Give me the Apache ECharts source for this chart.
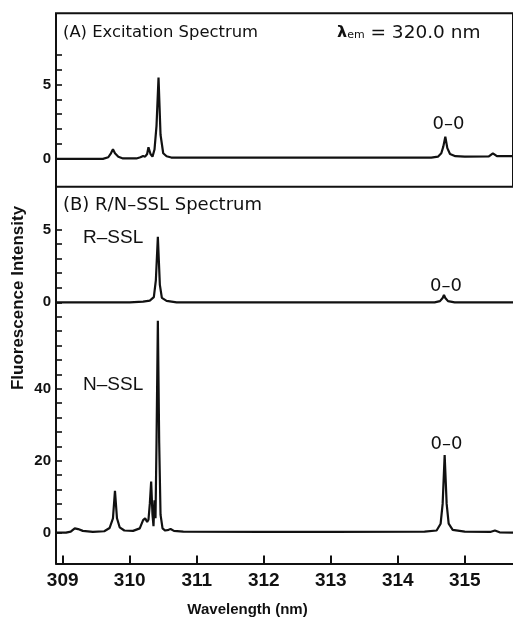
<!DOCTYPE html>
<html>
<head>
<meta charset="utf-8">
<script src="https://cdn.jsdelivr.net/npm/echarts@6/dist/echarts.min.js"></script>
<style>
html,body{margin:0;padding:0;background:#fff;}
#chart{width:513px;height:619px;}
</style>
</head>
<body>
<div id="chart"></div>
<script>
// ---- Data ----
// (A) Excitation spectrum, lambda_em = 320.0 nm
var excWave = [308.9, 309.6, 309.68, 309.72, 309.75, 309.78, 309.83, 309.9, 310.1, 310.16, 310.2, 310.23, 310.26, 310.28, 310.31, 310.34, 310.37, 310.4, 310.43, 310.46, 310.5, 310.55, 310.62, 310.8, 314.5, 314.6, 314.65, 314.68, 314.71, 314.74, 314.78, 314.86, 315.0, 315.36, 315.42, 315.48, 315.72];
var excInt  = [-0.03, -0.03, 0.08, 0.35, 0.62, 0.35, 0.12, 0.0, 0.0, 0.08, 0.17, 0.12, 0.3, 0.76, 0.3, 0.12, 0.6, 2.2, 5.46, 1.6, 0.35, 0.15, 0.06, 0.05, 0.05, 0.12, 0.35, 0.8, 1.47, 0.7, 0.3, 0.15, 0.12, 0.14, 0.35, 0.15, 0.15];

// (B) R-SSL spectrum
var rWave = [308.9, 310.0, 310.2, 310.3, 310.36, 310.39, 310.42, 310.45, 310.48, 310.55, 310.7, 314.55, 314.63, 314.67, 314.69, 314.71, 314.75, 314.85, 315.72];
var rInt  = [0, 0, 0.05, 0.12, 0.35, 1.5, 4.5, 1.2, 0.3, 0.1, 0.0, 0.0, 0.08, 0.3, 0.5, 0.3, 0.08, 0.0, 0.0];

// (B) N-SSL spectrum
var nWave = [308.9, 309.05, 309.12, 309.18, 309.23, 309.3, 309.45, 309.62, 309.7, 309.75, 309.78, 309.81, 309.85, 309.92, 310.05, 310.15, 310.2, 310.23, 310.26, 310.28, 310.3, 310.32, 310.34, 310.355, 310.37, 310.385, 310.4, 310.42, 310.44, 310.46, 310.49, 310.53, 310.58, 310.61, 310.66, 310.8, 312.0, 313.0, 314.4, 314.58, 314.64, 314.67, 314.70, 314.73, 314.76, 314.82, 315.0, 315.38, 315.45, 315.52, 315.72];
var nInt  = [0, 0, 0.3, 1.2, 1.0, 0.5, 0.2, 0.4, 1.3, 4.0, 11.6, 4.0, 1.5, 0.6, 0.5, 1.2, 3.5, 4.0, 3.0, 3.6, 8.0, 14.2, 5.0, 1.8, 9.0, 4.0, 25.0, 58.9, 25.0, 5.0, 1.2, 0.6, 0.8, 1.0, 0.5, 0.3, 0.2, 0.2, 0.3, 0.6, 2.5, 8.0, 21.6, 8.0, 2.5, 0.8, 0.3, 0.2, 0.6, 0.1, 0.0];

// Axis ticks / labels
var xTicks = [309, 310, 311, 312, 313, 314, 315];
var aTicks = [0, 1, 2, 3, 4, 5, 6, 7];
var aLabels = [0, 5];
var rTicks = [0, 1, 2, 3, 4, 5];
var rLabels = [0, 5];
var nTicks = [0, 4, 8, 12, 16, 20, 24, 28, 32, 36, 40, 44, 48, 52, 56, 60];
var nLabels = [0, 20, 40];

function pairs(xs, ys) { return xs.map(function (x, i) { return [x, ys[i]]; }); }

var chart = echarts.init(document.getElementById('chart'), null, {renderer: 'canvas'});
var X_MIN = 308.9, X_MAX = 315.72;
var black = '#111';
var tickFont = 'Liberation Sans, Arial, sans-serif';
var annFont = 'DejaVu Sans, sans-serif';

function xAxisCfg(gi, showAll) {
  return {
    type: 'value', gridIndex: gi, min: X_MIN, max: X_MAX,
    axisLine: {show: showAll, onZero: false, lineStyle: {color: black, width: 2}},
    axisTick: {show: showAll, inside: true, length: 8, customValues: xTicks, lineStyle: {color: black, width: 2}},
    axisLabel: {show: showAll, customValues: xTicks, margin: 8, color: black, fontSize: 19, fontWeight: 'bold', fontFamily: tickFont},
    splitLine: {show: false}
  };
}
function yAxisCfg(gi, min, max, ticks, labels, showLine) {
  return {
    type: 'value', gridIndex: gi, min: min, max: max,
    axisLine: {show: showLine, onZero: false, lineStyle: {color: black, width: 2}},
    axisTick: {show: true, inside: true, length: 6, customValues: ticks, lineStyle: {color: black, width: 1.6}},
    axisLabel: {show: true, customValues: labels, margin: 5, color: black, fontSize: 15, fontWeight: 'bold', fontFamily: tickFont},
    splitLine: {show: false}
  };
}
function lineSeries(gi, data) {
  return {
    type: 'line', xAxisIndex: gi, yAxisIndex: gi, data: data,
    showSymbol: false, symbol: 'none', smooth: false,
    lineStyle: {color: black, width: 2.2}, silent: true
  };
}
function txt(text, x, y, size, align, family) {
  return {
    type: 'text', silent: true, z: 100,
    style: {text: text, x: x, y: y, fill: black, font: 'normal ' + size + 'px ' + (family || annFont), textAlign: align || 'left', textVerticalAlign: 'middle'}
  };
}

var option = {
  animation: false,
  backgroundColor: '#fff',
  grid: [
    {left: 56, top: 13.3, width: 459, height: 173.4, show: true, borderColor: black, borderWidth: 2, backgroundColor: 'transparent'},
    {left: 56, top: 186.7, width: 459, height: 125.3},
    {left: 56, top: 312, width: 459, height: 251.5}
  ],
  xAxis: [xAxisCfg(0, false), xAxisCfg(1, false), xAxisCfg(2, true)],
  yAxis: [
    yAxisCfg(0, -1.91, 9.81, aTicks, aLabels, false),
    yAxisCfg(1, -0.666, 7.94, rTicks, rLabels, true),
    yAxisCfg(2, -8.56, 61.3, nTicks, nLabels, true)
  ],
  series: [
    lineSeries(0, pairs(excWave, excInt)),
    lineSeries(1, pairs(rWave, rInt)),
    lineSeries(2, pairs(nWave, nInt))
  ],
  graphic: [
    txt('(A) Excitation Spectrum', 63, 33, 16.4),
    {
      type: 'text', silent: true, z: 100,
      style: {
        x: 337, y: 33, textVerticalAlign: 'middle', fill: black,
        text: '{l|λ}{s|em}{n| = 320.0 nm}',
        rich: {
          l: {fontFamily: annFont, fontSize: 16, fontWeight: 'bold', fill: black},
          s: {fontFamily: annFont, fontSize: 11, fill: black, padding: [5, 0, 0, 0]},
          n: {fontFamily: annFont, fontSize: 18.5, fill: black}
        }
      }
    },
    txt('(B) R/N–SSL Spectrum', 63, 205, 18),
    txt('R–SSL', 83, 238, 19, 'left', tickFont),
    txt('0–0', 448.5, 124, 18, 'center'),
    txt('0–0', 446, 286, 18, 'center'),
    txt('N–SSL', 83, 385, 19, 'left', tickFont),
    txt('0–0', 446.5, 444, 18, 'center'),
    {
      type: 'text', silent: true, z: 100, x: 18, y: 298, rotation: Math.PI / 2,
      style: {text: 'Fluorescence Intensity', x: 0, y: 0, fill: black, font: 'bold 17px ' + tickFont, textAlign: 'center', textVerticalAlign: 'middle'}
    },
    {
      type: 'text', silent: true, z: 100,
      style: {text: 'Wavelength (nm)', x: 247.5, y: 610, fill: black, font: 'bold 15px ' + tickFont, textAlign: 'center', textVerticalAlign: 'middle'}
    }
  ]
};
chart.setOption(option);
</script>
</body>
</html>
